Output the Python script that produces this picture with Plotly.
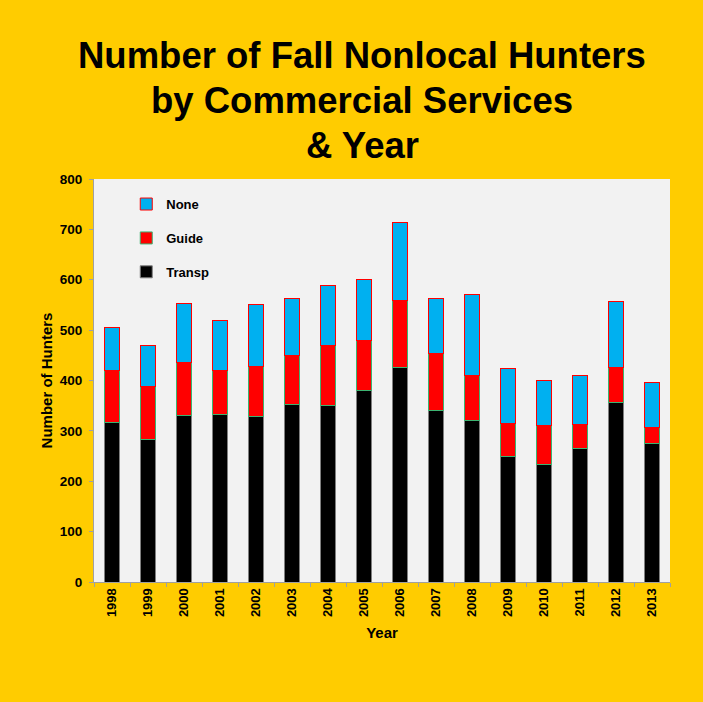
import plotly.graph_objects as go

years = [str(y) for y in range(1998, 2014)]
transp = [316, 282, 331, 333, 329, 352, 350, 381, 425, 341, 321, 250, 233, 266, 356, 275]
guide = [103, 107, 105, 87, 98, 98, 120, 99, 133, 112, 88, 65, 78, 47, 69, 32]
none_ = [87, 81, 117, 99, 124, 113, 119, 121, 156, 110, 162, 108, 90, 96, 132, 89]

y_ticks = list(range(0, 801, 100))
title_lines = ["Number of Fall Nonlocal Hunters", "by Commercial Services", "&amp; Year"]

fig = go.Figure()
fig.add_trace(go.Bar(x=years, y=transp, name="Transp", legendgroup="t", legendrank=3,
                     marker=dict(color="#000000", line=dict(color="#7f7f7f", width=1))))
fig.add_trace(go.Bar(x=years, y=guide, name="Guide", legendgroup="g", legendrank=2,
                     marker=dict(color="#FF0000", line=dict(color="#3cb371", width=1))))
fig.add_trace(go.Bar(x=years, y=none_, name="None", legendgroup="n", legendrank=1,
                     marker=dict(color="#00B0F0", line=dict(color="#FF0000", width=1))))

font_family = "Liberation Sans, Arial, sans-serif"

# three centred title lines above the plot area
annotations = []
for i, line in enumerate(title_lines):
    annotations.append(dict(
        text=f"<b>{line}</b>",
        x=0.5, y=1.0, xref="paper", yref="paper",
        xanchor="center", yanchor="middle",
        xshift=-20, yshift=124 - 45 * i,
        showarrow=False,
        font=dict(size=36.5, family=font_family, color="#000000"),
    ))

fig.update_layout(
    barmode="stack",
    bargap=0.56,
    width=703, height=702,
    paper_bgcolor="#FFCC00",
    plot_bgcolor="#F2F2F2",
    margin=dict(l=94, r=33, t=179, b=120),
    font=dict(family=font_family, color="#000000"),
    showlegend=True,
    legend=dict(x=0.056, y=0.975, xanchor="left", yanchor="top",
                traceorder="grouped", tracegroupgap=14, itemwidth=30,
                bgcolor="rgba(0,0,0,0)",
                font=dict(size=13, family=font_family, weight="bold")),
    annotations=annotations,
)

fig.update_xaxes(
    type="category",
    tickangle=-90,
    tickfont=dict(size=13, family=font_family, weight="bold"),
    title=dict(text="<b>Year</b>", font=dict(size=15, family=font_family), standoff=11),
    showline=True, linecolor="#a0a0a0", linewidth=1,
    ticks="outside", tickson="boundaries", ticklen=4, tickcolor="#a0a0a0",
    showgrid=False,
)
fig.update_yaxes(
    range=[0, 800],
    tickvals=y_ticks,
    tickfont=dict(size=13.5, family=font_family, weight="bold"),
    title=dict(text="<b>Number of Hunters</b>", font=dict(size=15, family=font_family), standoff=3),
    showline=True, linecolor="#a0a0a0", linewidth=1,
    ticks="outside", ticklen=4, tickcolor="#a0a0a0", ticklabelstandoff=4,
    showgrid=False, zeroline=False,
)

fig.write_html("out.html")
